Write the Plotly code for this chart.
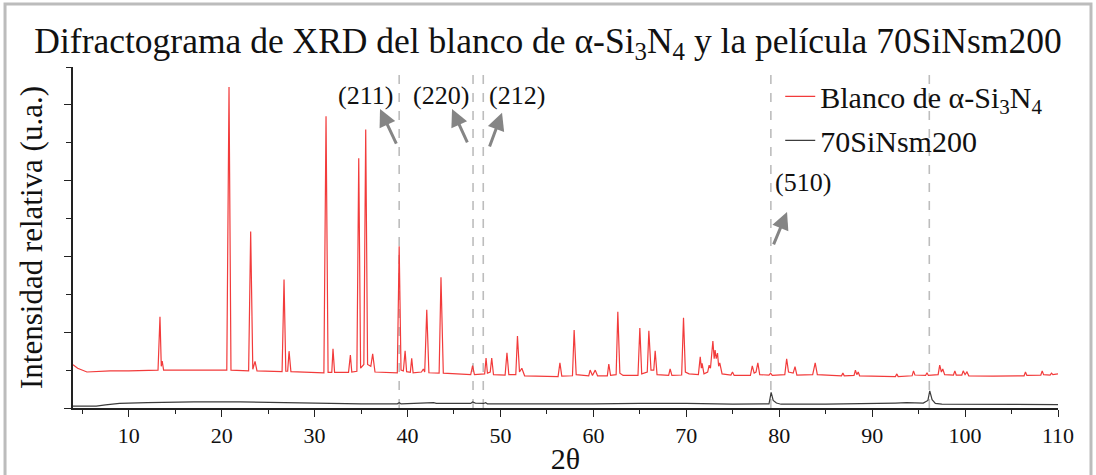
import plotly.graph_objects as go

# ---------------- data ----------------
red_two_theta = [
    4.0, 4.5, 5.5, 6.5, 8.0, 10.0, 12.0, 13.15, 13.36, 13.5, 13.6, 13.75, 16.0, 18.0,
    20.55, 20.79, 21.0, 22.9, 23.12, 23.35, 23.59, 23.8, 26.5, 26.71, 26.9, 27.1, 27.25, 27.45,
    29.0, 31.0, 31.23, 31.45, 31.85, 31.98, 32.15, 33.65, 33.85, 34.0, 34.55, 34.75, 34.95,
    35.3, 35.5, 35.7, 36.05, 36.25, 36.5, 38.9, 39.1, 39.3, 39.55, 39.74, 39.9, 40.3, 40.45,
    40.6, 41.5, 41.7, 41.85, 42.07, 42.3, 43.4, 43.6, 43.85, 46.8, 47.0, 47.2, 48.3, 48.45,
    48.6, 48.9, 49.06, 49.25, 50.5, 50.7, 50.9, 51.65, 51.83, 52.05, 52.3, 52.6, 56.2, 56.4,
    56.6, 57.75, 57.93, 58.15, 59.5, 59.65, 59.9, 60.2, 60.45, 61.5, 61.66, 61.85, 62.45,
    62.63, 62.85, 63.2, 64.8, 65.0, 65.2, 65.8, 65.97, 66.2, 66.5, 66.65, 66.85, 68.1, 68.26,
    68.45, 69.5, 69.7, 69.9, 70.3, 71.3, 71.5, 71.62, 71.7, 71.9, 72.3, 72.46, 72.6, 72.86,
    73.0, 73.1, 73.22, 73.36, 73.48, 73.6, 73.85, 74.8, 74.97, 75.15, 76.9, 77.1, 77.3, 77.5,
    77.7, 77.9, 78.9, 79.07, 79.25, 80.6, 80.8, 81.0, 81.5, 81.7, 81.9, 83.6, 83.87, 84.1,
    86.7, 86.85, 87.0, 88.05, 88.2, 88.35, 88.5, 88.65, 92.5, 92.66, 92.8, 94.3, 94.45, 94.6,
    95.75, 95.9, 96.05, 97.1, 97.27, 97.45, 97.6, 97.8, 98.75, 98.9, 99.05, 99.65, 99.8,
    100.0, 100.2, 100.4, 103.0, 106.35, 106.5, 106.65, 108.15, 108.3, 108.45, 109.15, 109.3,
    109.45, 110.0,
]
red_intensity = [
    1.14, 1.05, 0.95, 0.96, 0.98, 0.98, 0.99, 1.0, 2.41, 1.1, 1.24, 1.0, 1.0, 1.0,
    1.0, 8.47, 1.0, 0.98, 4.66, 1.02, 1.23, 0.98, 0.96, 3.39, 0.97, 0.97, 1.5, 0.96,
    0.94, 0.93, 7.7, 0.94, 0.94, 1.56, 0.94, 0.94, 1.40, 0.95, 0.97, 6.59, 1.05,
    1.15, 7.35, 1.15, 1.1, 1.43, 0.95, 0.93, 4.27, 1.0, 0.98, 1.51, 0.96, 0.94, 1.31,
    0.93, 0.95, 1.03, 0.95, 2.59, 0.93, 0.92, 3.45, 0.92, 0.88, 1.12, 0.88, 0.9, 1.32,
    0.92, 0.95, 1.32, 0.88, 0.87, 1.46, 0.88, 0.88, 1.9, 0.95, 1.05, 0.85, 0.83, 1.19,
    0.84, 0.85, 2.06, 0.88, 0.85, 1.0, 0.86, 1.0, 0.85, 0.85, 1.16, 0.86, 0.88,
    2.54, 0.92, 0.86, 0.86, 2.11, 0.9, 0.95, 2.04, 1.0, 1.0, 1.51, 0.88, 0.86, 1.03,
    0.86, 0.87, 2.38, 0.95, 0.9, 0.88, 1.35, 1.05, 1.18, 0.9, 0.95, 1.13, 1.05, 1.77,
    1.3, 1.53, 1.3, 1.45, 1.1, 1.19, 0.9, 0.87, 0.95, 0.86, 0.86, 1.11, 0.92, 0.95,
    1.19, 0.88, 0.87, 0.92, 0.86, 0.88, 1.30, 0.95, 0.92, 1.09, 0.87, 0.88, 1.19, 0.88,
    0.85, 0.92, 0.85, 0.86, 1.0, 0.88, 0.95, 0.85, 0.83, 0.9, 0.83, 0.85, 0.98, 0.87,
    0.86, 0.93, 0.86, 0.88, 1.13, 0.95, 1.03, 0.88, 0.87, 0.98, 0.87, 0.87, 0.98,
    0.88, 0.95, 0.85, 0.84, 0.85, 0.95, 0.86, 0.87, 0.98, 0.88, 0.87, 0.92,
    0.88, 0.9,
]

film_two_theta = [
    4.0, 6.5, 7.5, 9.0, 12.0, 17.0, 22.0, 26.0, 30.0, 35.0, 38.9, 39.1, 39.3, 42.5, 42.8,
    43.1, 46.8, 47.0, 47.3, 48.2, 48.4, 48.6, 55.0, 60.0, 65.0, 70.0, 75.0, 78.9, 79.13,
    79.35, 79.7, 80.2, 85.0, 90.0, 92.5, 93.7, 95.5, 96.0, 96.2, 96.45, 96.8, 97.5, 105.0,
    110.0,
]
film_intensity = [
    0.05, 0.05, 0.08, 0.12, 0.14, 0.16, 0.16, 0.14, 0.13, 0.11, 0.11, 0.14, 0.11, 0.12, 0.14,
    0.12, 0.12, 0.16, 0.13, 0.12, 0.14, 0.11, 0.10, 0.11, 0.12, 0.12, 0.10, 0.11, 0.41,
    0.20, 0.13, 0.10, 0.10, 0.11, 0.13, 0.14, 0.13, 0.20, 0.45, 0.22, 0.12, 0.10, 0.09,
    0.09,
]

ref_lines = [39.1, 47.05, 48.15, 79.1, 96.15]

# planes: label, label position (x, y), arrow head (x, y), arrow tail (x, y)
plane_labels = ["(211)", "(220)", "(212)", "(510)"]
label_x = [35.45, 43.55, 51.8, 82.6]
label_y = [8.26, 8.26, 8.26, 5.94]
head_x = [37.04, 44.79, 50.17, 80.84]
head_y = [7.89, 7.89, 7.79, 5.17]
tail_x = [38.87, 46.51, 48.77, 79.33]
tail_y = [6.94, 6.97, 6.86, 4.28]

x_range = [4, 110]
y_range = [0, 9]

FONT = "Liberation Serif, Times New Roman, serif"
INK = "#111111"

# ---------------- figure ----------------
fig = go.Figure()
fig.add_trace(go.Scatter(
    x=red_two_theta, y=red_intensity, mode="lines",
    name="Blanco de α-Si<sub>3</sub>N<sub>4</sub>",
    line=dict(color="#f23b3b", width=1.2), legendgroup="a",
))
fig.add_trace(go.Scatter(
    x=film_two_theta, y=film_intensity, mode="lines",
    name="70SiNsm200",
    line=dict(color="#3c3c3c", width=1.2), legendgroup="b",
))

shapes = []
for xv in ref_lines:
    shapes.append(dict(type="line", xref="x", yref="paper", x0=xv, x1=xv, y0=0, y1=1,
                       line=dict(color="#bdbdbd", width=1.6, dash="dash"), layer="below"))
# outer frame of the picture
shapes.append(dict(type="rect", xref="paper", yref="paper",
                   x0=-0.069, x1=1.0335, y0=-0.25, y1=1.185,
                   line=dict(color="#bcbcbc", width=3), fillcolor="rgba(0,0,0,0)"))

annotations = []
for lab, lx, ly, hx, hy, tx, ty in zip(plane_labels, label_x, label_y, head_x, head_y, tail_x, tail_y):
    annotations.append(dict(x=lx, y=ly, xref="x", yref="y", text=lab, showarrow=False,
                            font=dict(family=FONT, size=26, color=INK)))
    annotations.append(dict(x=hx, y=hy, xref="x", yref="y", ax=tx, ay=ty, axref="x", ayref="y",
                            text="", showarrow=True, arrowhead=2, arrowsize=1.15,
                            arrowwidth=3, arrowcolor="#858585"))

axis_common = dict(showline=True, linecolor="#222", linewidth=1.5, showgrid=False,
                   zeroline=False, automargin=False, tickcolor="#222", tickwidth=1.3)

fig.update_layout(
    width=1096, height=475,
    margin=dict(l=73, r=38, t=67, b=67, autoexpand=False),
    paper_bgcolor="white", plot_bgcolor="white",
    font=dict(family=FONT, color=INK),
    title=dict(text="Difractograma de XRD del blanco de α-Si<sub>3</sub>N<sub>4</sub> y la película 70SiNsm200",
               x=0.5, xanchor="center", y=0.915, yanchor="middle",
               font=dict(family=FONT, size=35.5, color=INK)),
    xaxis=dict(range=x_range, dtick=10, tick0=0, ticks="outside", ticklen=7,
               minor=dict(dtick=5, tick0=0, ticks="outside", ticklen=4, tickwidth=1.2, tickcolor="#222"),
               tickfont=dict(family=FONT, size=22, color=INK),
               title=dict(text="2θ", font=dict(family=FONT, size=30, color=INK), standoff=3),
               **axis_common),
    yaxis=dict(range=y_range, dtick=2, tick0=0, ticks="outside", ticklen=7, showticklabels=False,
               minor=dict(dtick=1, tick0=0, ticks="outside", ticklen=5, tickwidth=1.2, tickcolor="#222"),
               title=dict(text="Intensidad relativa (u.a.)",
                          font=dict(family=FONT, size=31, color=INK), standoff=12),
               **axis_common),
    xaxis2=dict(range=x_range, overlaying="x", side="top", dtick=10, tick0=0, ticks="inside",
                ticklen=7, showticklabels=False,
                minor=dict(dtick=5, tick0=0, ticks="inside", ticklen=4, tickwidth=1.2, tickcolor="#222"),
                **axis_common),
    yaxis2=dict(range=y_range, overlaying="y", side="right", dtick=2, tick0=0, ticks="inside",
                ticklen=6, showticklabels=False,
                minor=dict(dtick=1, tick0=0, ticks="inside", ticklen=4, tickwidth=1.2, tickcolor="#222"),
                **axis_common),
    legend=dict(x=0.718, y=0.99, xanchor="left", yanchor="top",
                bgcolor="rgba(0,0,0,0)", borderwidth=0, tracegroupgap=2,
                traceorder="grouped",
                font=dict(family=FONT, size=30, color=INK)),
    shapes=shapes,
    annotations=annotations,
    showlegend=True,
)

# the page's default 8px body margin would shift the whole figure; remove it
fig.write_html("out.html", config={"displayModeBar": False},
               post_script="document.body.style.margin='0';")
